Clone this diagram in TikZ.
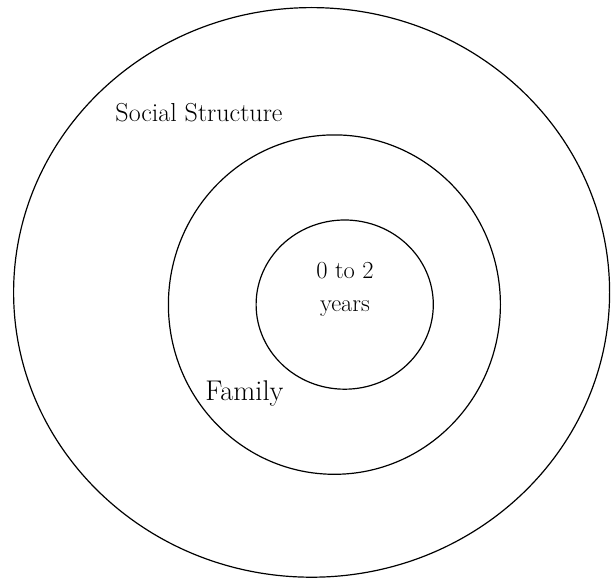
\documentclass[tikz,border=0pt]{standalone}
\usetikzlibrary{shapes.geometric}
\begin{document}
\begin{tikzpicture}[x=1pt,y=-1pt,
  ring/.style={draw=black, line width=1.2pt, ellipse, inner sep=0pt},
  label/.style={inner sep=0pt, text=black}]
  \useasboundingbox (0,0) rectangle (611,578);
  % concentric rings
  \node[ring, minimum width=596pt, minimum height=569.6pt] (society) at (311.6,292.4) {};
  \node[ring, minimum width=332pt, minimum height=339.4pt] (family) at (334.4,304.6) {};
  \node[ring, minimum width=177.2pt, minimum height=169.2pt] (infant) at (344.7,304.6) {};
  % ring labels
  \node[label, anchor=base, font=\fontsize{26}{30}\selectfont] (societytext) at (199,121.6) {Social Structure};
  \node[label, anchor=base, font=\fontsize{28.5}{32}\selectfont] (familytext) at (244.5,400) {Family};
  \node[label, align=center, font=\fontsize{24.5}{33}\selectfont] (infanttext) at (345,289) {0 to 2\\years};
\end{tikzpicture}
\end{document}
